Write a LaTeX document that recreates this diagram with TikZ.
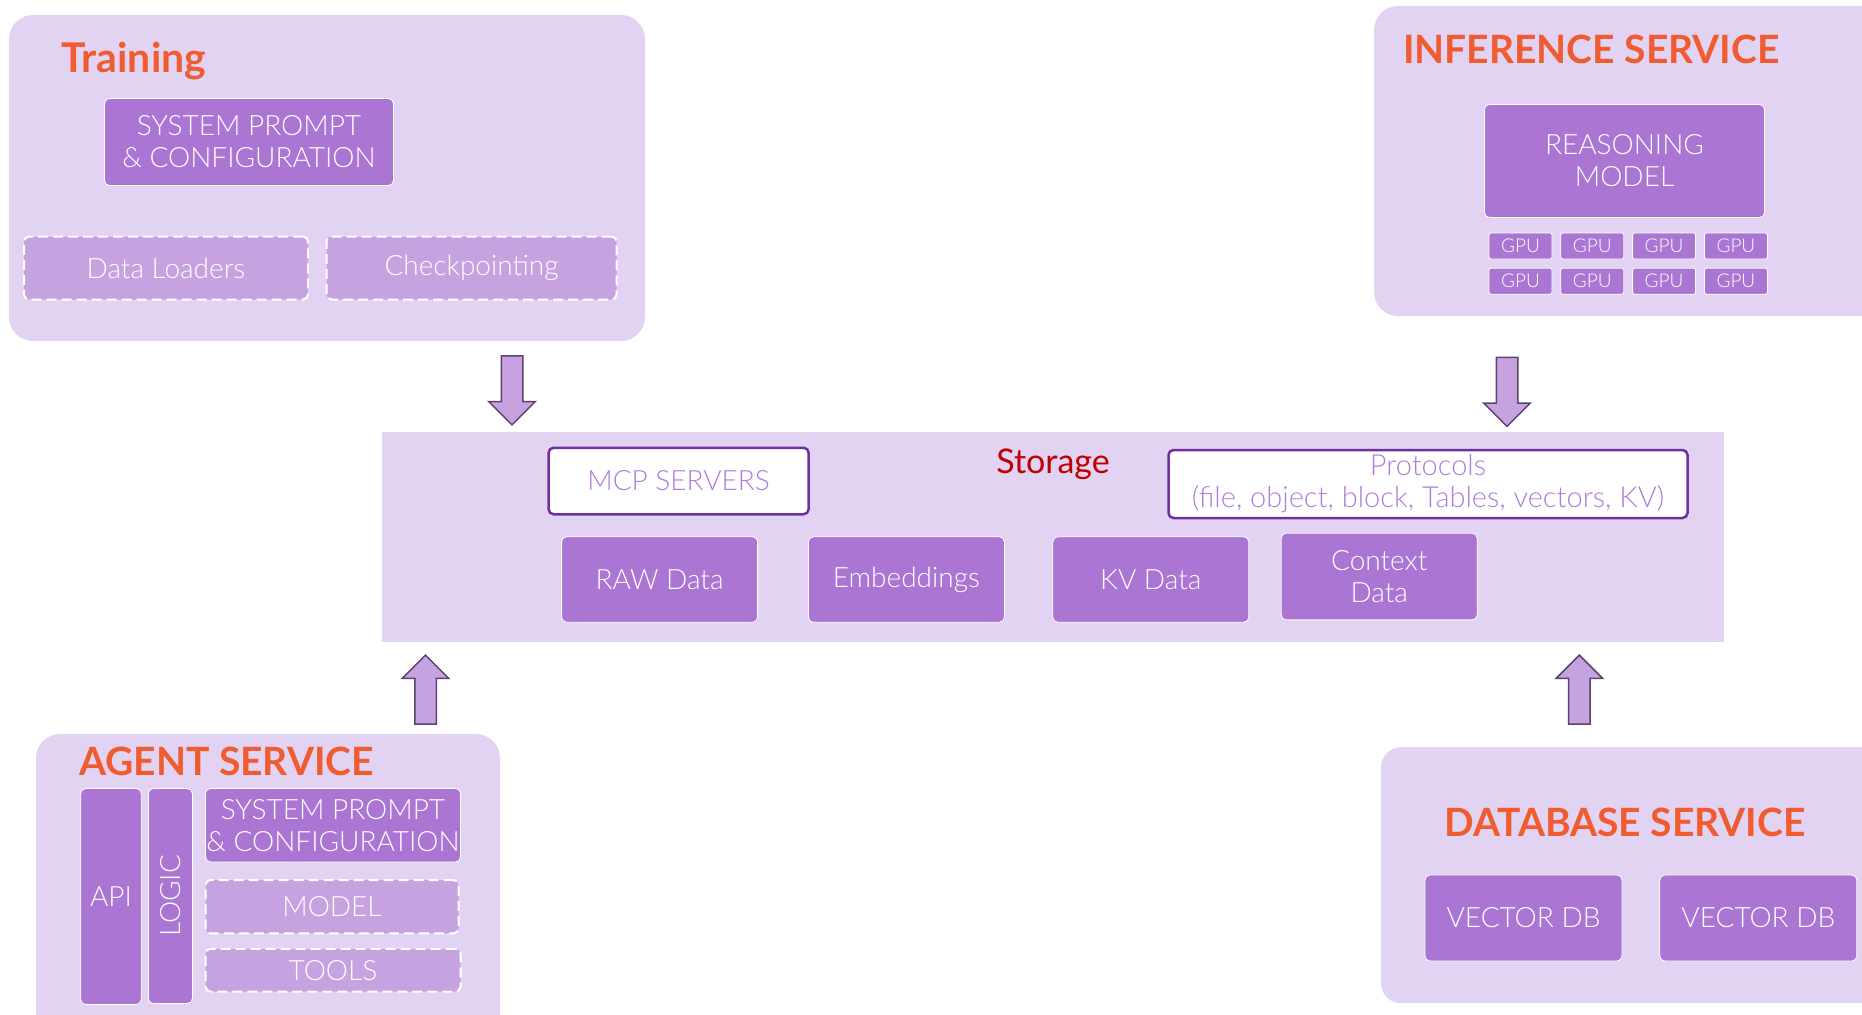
\documentclass[tikz,border=0pt]{standalone}
\usepackage{fontspec}
\setmainfont{Lato}
\newfontfamily\lightfont{Lato Light}
\usetikzlibrary{
  positioning,
  shapes.arrows
}
\definecolor{panelfill}{RGB}{226,211,242}
\definecolor{boxpurple}{RGB}{171,117,212}
\definecolor{dashpurple}{RGB}{199,162,225}
\definecolor{linepurple}{RGB}{112,48,160}
\definecolor{softpurple}{RGB}{176,126,218}
\definecolor{titleorange}{RGB}{240,92,48}
\definecolor{storagered}{RGB}{192,0,0}
\definecolor{arrowline}{RGB}{88,68,110}
\newcommand{\boxfont}{\fontsize{28}{32}\selectfont\lightfont}

\begin{document}
\begin{tikzpicture}[
  x=1pt, y=-1pt,
  node distance=8pt,
  panel/.style={fill=panelfill, rounded corners=24pt, inner sep=0pt},
  paneltitle/.style={
    anchor=base west,
    inner sep=0pt,
    text=titleorange,
    font=\fontsize{39}{46}\selectfont\bfseries
  },
  box/.style={
    rounded corners=5pt,
    draw=white,
    line width=0.8pt,
    fill=boxpurple,
    text=white,
    align=center,
    inner sep=0pt,
    font=\boxfont
  },
  dashbox/.style={box, fill=dashpurple, line width=2pt, dash pattern=on 10pt off 5pt},
  outlinebox/.style={box, fill=white, draw=linepurple, line width=2.5pt, text=softpurple},
  gpu/.style={
    box,
    rounded corners=2pt,
    minimum width=63pt,
    minimum height=26pt,
    font=\fontsize{19}{22}\selectfont\lightfont
  },
  flow/.style={
    single arrow,
    draw=arrowline,
    fill=dashpurple,
    line width=1.5pt,
    minimum height=69pt,
    minimum width=45pt,
    single arrow head extend=12.5pt,
    single arrow tip angle=90,
    inner xsep=0pt,
    inner ysep=10pt
  }
]
\useasboundingbox (0,0) rectangle (1862,1014);
\clip (0,0) rectangle (1862,1014);

% training
\node[panel, minimum width=636pt, minimum height=326pt] (train) at (327,178) {};
\node[paneltitle, font=\fontsize{41}{48}\selectfont\bfseries] (trainT) at (61,72.7) {Training};
\node[box, minimum width=289pt, minimum height=87pt] (trainSys) at (249,142) {SYSTEM PROMPT\\\& CONFIGURATION};
\node[dashbox, minimum width=284pt, minimum height=63pt] (loaders) at (166,268) {Data Loaders};
\node[dashbox, minimum width=290pt, minimum height=63pt, right=16.5pt of loaders] (ckpt) {Checkpointing};

% inference service
\node[panel, minimum width=516pt, minimum height=310pt] (infer) at (1632,161) {};
\node[paneltitle] (inferT) at (1403,63.3) {INFERENCE SERVICE};
\node[box, minimum width=280pt, minimum height=113pt] (reason) at (1624.5,161) {REASONING\\MODEL};
\node[gpu] (gpuA) at (1520.5,246) {GPU};
\node[gpu, right=of gpuA] (gpuB) {GPU};
\node[gpu, right=of gpuB] (gpuC) {GPU};
\node[gpu, right=of gpuC] (gpuD) {GPU};
\node[gpu, below=8.4pt of gpuA] (gpuE) {GPU};
\node[gpu, right=of gpuE] (gpuF) {GPU};
\node[gpu, right=of gpuF] (gpuG) {GPU};
\node[gpu, right=of gpuG] (gpuH) {GPU};

% storage layer
\node[panel, rounded corners=0pt, minimum width=1342pt, minimum height=210pt] (store) at (1053.4,537.3) {};
\node[anchor=base, inner sep=0pt, text=storagered, font=\fontsize{34}{40}\selectfont] (storeT) at (1053,473) {Storage};
\node[outlinebox, minimum width=260pt, minimum height=66.5pt] (mcp) at (678.6,481) {MCP SERVERS};
\node[outlinebox, minimum width=519pt, minimum height=68pt, font=\fontsize{29}{32}\selectfont\lightfont] (proto) at (1428,484) {Protocols\\(file, object, block, Tables, vectors, KV)};
\node[box, minimum width=196pt, minimum height=85.5pt] (raw) at (659.6,579.5) {RAW Data};
\node[box, minimum width=196pt, minimum height=85.5pt, right=50pt of raw] (emb) {Embeddings};
\node[box, minimum width=196pt, minimum height=85.5pt, right=47.6pt of emb] (kv) {KV Data};
\node[box, minimum width=196pt, minimum height=86.7pt] (ctx) at (1379.2,576.5) {Context\\Data};

% block arrows into storage
\node[flow, rotate=-90] (dnTrain) at (512,385) {};
\node[flow, rotate=-90] (dnInfer) at (1507,386.5) {};
\node[flow, rotate=90] (upAgent) at (425.5,695) {};
\node[flow, rotate=90] (upDb) at (1579.4,695) {};

% agent service
\node[panel, minimum width=464pt, minimum height=306pt] (agent) at (268,887) {};
\node[paneltitle] (agentT) at (79,775) {AGENT SERVICE};
\node[box, minimum width=60.5pt, minimum height=216pt] (api) at (111,896.5) {API};
\node[box, rotate=90, minimum width=215pt, minimum height=44pt] (logic) at (170.4,896) {LOGIC};
\node[box, minimum width=255pt, minimum height=73.5pt] (agentSys) at (333,825.2) {SYSTEM PROMPT\\\& CONFIGURATION};
\node[dashbox, minimum width=253pt, minimum height=53.4pt] (model) at (332,906.7) {MODEL};
\node[dashbox, minimum width=255pt, minimum height=42.8pt] (tools) at (333,970.2) {TOOLS};

% database service
\node[panel, rounded corners=20pt, minimum width=509pt, minimum height=256pt] (db) at (1635.5,875.2) {};
\node[paneltitle] (dbT) at (1444,836.7) {DATABASE SERVICE};
\node[box, minimum width=197pt, minimum height=86pt] (vdbA) at (1523.5,918) {VECTOR DB};
\node[box, minimum width=197pt, minimum height=86pt, right=37pt of vdbA] (vdbB) {VECTOR DB};

\end{tikzpicture}
\end{document}
